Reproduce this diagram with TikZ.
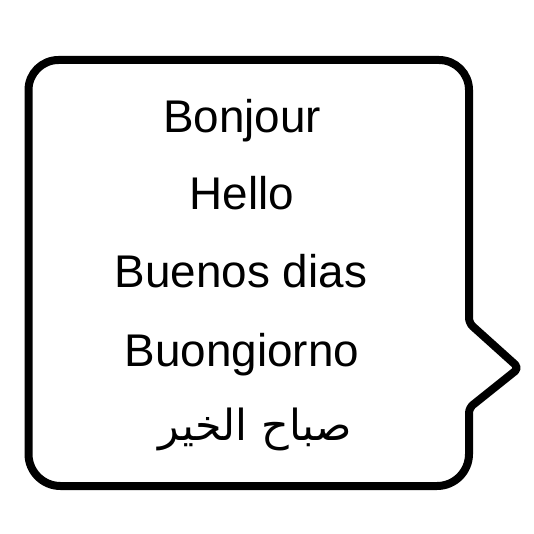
\documentclass[tikz,border=0pt]{standalone}
\usepackage{fontspec}
\setmainfont{Liberation Sans}
\newfontfamily\arabicfont[Script=Arabic]{DejaVu Sans}
\TeXXeTstate=1
\begin{document}
\begin{tikzpicture}[x=1bp,y=-1bp,
  greet/.style={anchor=base, inner sep=0pt, font=\fontsize{46}{55}\selectfont},
  arab/.style={anchor=base, inner sep=0pt, font=\arabicfont\fontsize{43}{50}\selectfont},
  bubble/.style={draw=black, line width=8bp, line join=round}]
\useasboundingbox (0,0) rectangle (534,534);
\draw[bubble, rounded corners=30bp] (28.5,250) -- (28.5,60) -- (469,60)
  [rounded corners=5bp] -- (469,323) -- (519,368) -- (469,408)
  [rounded corners=32bp] -- (469,486) -- (28.5,486) -- cycle;
\node[greet] (bonjour) at (242,133) {Bonjour};
\node[greet] (hello) at (242,210) {Hello};
\node[greet] (buenos) at (241,287) {Buenos dias};
\node[greet] (buongiorno) at (242,366) {Buongiorno};
\node[arab] (sabah) at (255,440) {\beginR صباح الخير\endR};
\end{tikzpicture}
\end{document}
